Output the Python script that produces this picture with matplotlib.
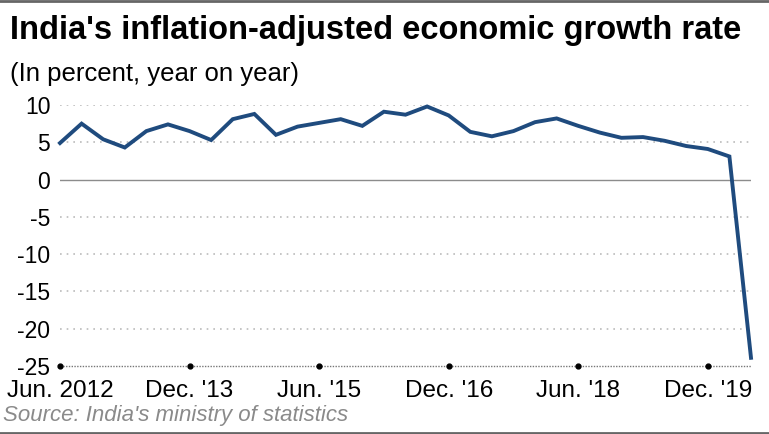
import matplotlib.pyplot as plt
from matplotlib.lines import Line2D

# quarterly GDP growth, Jun. 2012 .. Jun. 2020
quarters = [
    "2012-06", "2012-09", "2012-12", "2013-03",
    "2013-06", "2013-09", "2013-12", "2014-03",
    "2014-06", "2014-09", "2014-12", "2015-03",
    "2015-06", "2015-09", "2015-12", "2016-03",
    "2016-06", "2016-09", "2016-12", "2017-03",
    "2017-06", "2017-09", "2017-12", "2018-03",
    "2018-06", "2018-09", "2018-12", "2019-03",
    "2019-06", "2019-09", "2019-12", "2020-03",
    "2020-06",
]
growth = [
    4.9, 7.5, 5.4, 4.3,
    6.5, 7.4, 6.5, 5.3,
    8.1, 8.8, 6.0, 7.1,
    7.6, 8.1, 7.2, 9.1,
    8.7, 9.8, 8.6, 6.4,
    5.8, 6.5, 7.7, 8.2,
    7.2, 6.3, 5.6, 5.7,
    5.2, 4.5, 4.1, 3.1,
    -23.9,
]
tick_idx = [0, 6, 12, 18, 24, 30]
tick_labels = ["Jun. 2012", "Dec. '13", "Jun. '15", "Dec. '16", "Jun. '18", "Dec. '19"]
y_ticks = [10, 5, 0, -5, -10, -15, -20, -25]


def main():
    plt.rcParams['font.family'] = ['Liberation Sans', 'DejaVu Sans']
    fig = plt.figure(figsize=(7.69, 4.34), dpi=100)
    W, H = 769, 434
    ax = fig.add_axes([60 / W, (H - 366) / H, (751 - 60) / W, (366 - 105) / H])

    x = list(range(len(growth)))
    ax.plot(x, growth, color='#1f4b7e', lw=2.8, solid_joinstyle='miter', clip_on=False, zorder=3)

    ax.set_xlim(0, len(growth) - 1)
    ax.set_ylim(-25, 10)

    for v in y_ticks:
        if v == 0:
            ax.axhline(v, color='#8c8c8c', lw=1.0, zorder=1)
        elif v == -25:
            ax.axhline(v, color='#777777', lw=1.0, ls=(0, (1, 1)), zorder=1, clip_on=False)
        else:
            ax.axhline(v, color='#bbbbbb', lw=1.2, ls=(0, (1, 3)), zorder=1)

    # tick dots on the baseline
    ax.plot(tick_idx, [-25] * len(tick_idx), 'o', color='black', ms=3.5, clip_on=False, zorder=4)

    ax.set_yticks(y_ticks)
    ax.set_yticklabels([str(v) for v in y_ticks], fontsize=16.5)
    ax.set_xticks(tick_idx)
    ax.set_xticklabels(tick_labels, fontsize=17.5)
    ax.tick_params(axis='y', length=0, pad=7)
    ax.tick_params(axis='x', length=0, pad=10)
    for s in ax.spines.values():
        s.set_visible(False)

    fig.text(10 / W, 1 - 30 / H, "India's inflation-adjusted economic growth rate",
             fontsize=23.5, fontweight='bold', va='center', ha='left',
             family=['Liberation Sans Narrow', 'Liberation Sans', 'DejaVu Sans'])
    fig.text(10 / W, 1 - 74 / H, "(In percent, year on year)",
             fontsize=18.5, va='center', ha='left',
             family=['Liberation Sans Narrow', 'Liberation Sans', 'DejaVu Sans'])
    fig.text(3 / W, 1 - 415 / H, "Source: India's ministry of statistics",
             fontsize=16, style='italic', color='#8a8a8a', va='center', ha='left')

    # frame lines top and bottom
    fig.add_artist(Line2D([0, 1], [1 - 1 / H, 1 - 1 / H], color='#666666', lw=2, transform=fig.transFigure))
    fig.add_artist(Line2D([0, 1], [1 / H, 1 / H], color='#666666', lw=2, transform=fig.transFigure))

    fig.savefig("out.png", dpi=100)


if __name__ == "__main__":
    main()
